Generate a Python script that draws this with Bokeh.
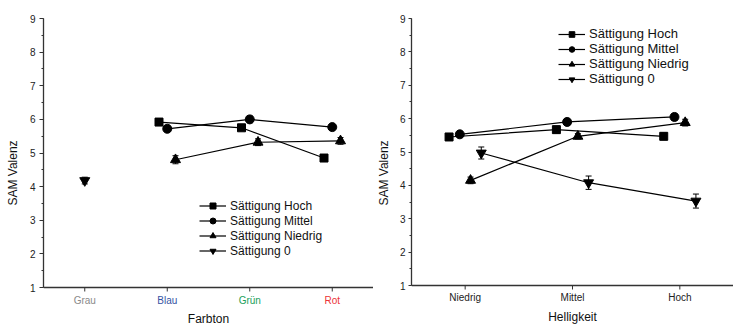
import numpy as np
from bokeh.plotting import figure
from bokeh.models import (ColumnDataSource, FactorRange, Range1d, Whisker, TeeHead,
                          Legend, LegendItem, SingleIntervalTicker, Span)
from bokeh.transform import dodge
from bokeh.layouts import row
from bokeh.embed import file_html
from bokeh.resources import INLINE

FONT = "Liberation Sans"

series_labels = ["Sättigung Hoch", "Sättigung Mittel", "Sättigung Niedrig", "Sättigung 0"]

# ---- left panel: Farbton ----
hue_cats = ["Grau", "Blau", "Grün", "Rot"]
hue_colors = ["#8a8a8a", "#3553a3", "#22a05a", "#ec3338"]
hue_hoch_x = ["Blau", "Grün", "Rot"]
hue_hoch = [5.92, 5.75, 4.85]
hue_hoch_err = [0.10, 0.08, 0.10]
hue_mittel_x = ["Blau", "Grün", "Rot"]
hue_mittel = [5.72, 6.00, 5.77]
hue_mittel_err = [0.08, 0.10, 0.08]
hue_niedrig_x = ["Blau", "Grün", "Rot"]
hue_niedrig = [4.80, 5.32, 5.36]
hue_niedrig_err = [0.12, 0.10, 0.10]
hue_null_x = ["Grau"]
hue_null = [4.18]
hue_null_err = [0.10]

# ---- right panel: Helligkeit ----
light_cats = ["Niedrig", "Mittel", "Hoch"]
light_colors = ["#222222", "#222222", "#222222"]
light_hoch = [5.45, 5.67, 5.47]
light_hoch_err = [0.10, 0.10, 0.10]
light_mittel = [5.53, 5.90, 6.05]
light_mittel_err = [0.08, 0.08, 0.10]
light_niedrig = [4.15, 5.47, 5.88]
light_niedrig_err = [0.10, 0.08, 0.10]
light_null = [4.97, 4.08, 3.53]
light_null_err = [0.18, 0.20, 0.21]

markers = ["square", "circle", "triangle", "inverted_triangle"]
msizes = [8, 9, 10, 10]

AXIS_COLOR = "#333333"
FRAME_TOP, CANVAS_H = 18, 327


def make_panel(cats, cat_colors, series, offsets, width, border_left, axis_y,
               tick_out, label_standoff, ylabel_standoff, legend_loc,
               legend_font, legend_row, xlabel, ticklabel_gap, xlabel_gap):
    # frame reaches the canvas bottom; the category axis is drawn at y = 1
    px_per_unit = (axis_y - FRAME_TOP) / 8.0
    y_start = 9 - (CANVAS_H - FRAME_TOP) / px_per_unit
    p = figure(x_range=FactorRange(*cats), y_range=Range1d(y_start, 9),
               width=width, height=CANVAS_H, output_backend="svg", toolbar_location=None,
               min_border_left=border_left, min_border_right=0, min_border_top=FRAME_TOP,
               min_border_bottom=0, x_axis_location=None)
    p.x_range.range_padding = 0
    p.outline_line_color = None
    p.xgrid.grid_line_color = None
    p.ygrid.grid_line_color = None
    p.background_fill_color = "white"
    p.border_fill_color = "white"

    ax = p.yaxis[0]
    ax.ticker = SingleIntervalTicker(interval=1, num_minor_ticks=2)
    ax.bounds = (1, 9)
    ax.axis_line_color = AXIS_COLOR
    ax.axis_line_width = 1.3
    ax.major_tick_line_color = AXIS_COLOR
    ax.minor_tick_line_color = AXIS_COLOR
    ax.major_tick_in = 0
    ax.minor_tick_in = 0
    ax.major_tick_out = tick_out
    ax.minor_tick_out = 2
    ax.major_label_text_font = FONT
    ax.major_label_text_font_size = "10px"
    ax.major_label_text_color = "#222222"
    ax.major_label_standoff = label_standoff
    ax.axis_label = "SAM Valenz"
    ax.axis_label_standoff = ylabel_standoff
    ax.axis_label_text_font = FONT
    ax.axis_label_text_font_size = "12px"
    ax.axis_label_text_font_style = "normal"
    ax.axis_label_text_color = "#111111"

    # category axis: line, ticks, coloured labels, title
    base = 1.0
    n = len(cats)
    p.add_layout(Span(location=base, dimension="width", line_color=AXIS_COLOR,
                      line_width=1.3))
    p.segment(x0=cats, y0=[base] * n, x1=cats, y1=[base - 4 / px_per_unit] * n,
              line_color=AXIS_COLOR, line_width=1)
    p.text(x=cats, y=[base - ticklabel_gap / px_per_unit] * n, text=cats,
           text_color=cat_colors, text_align="center", text_baseline="middle",
           text_font={"value": FONT}, text_font_size="10px")
    p.text(x=[n / 2], y=[base - xlabel_gap / px_per_unit], text=[xlabel],
           text_color="#111111", text_align="center", text_baseline="middle",
           text_font={"value": FONT}, text_font_size="12px")

    items = []
    for (label, xs, ys, errs), off, mk, ms in zip(series, offsets, markers, msizes):
        ys = np.asarray(ys, dtype=float)
        errs = np.asarray(errs, dtype=float)
        src = ColumnDataSource(dict(x=list(xs), y=ys, upper=ys + errs, lower=ys - errs))
        xd = dodge("x", off, range=p.x_range)
        ln = p.line(x=xd, y="y", source=src, line_color="black", line_width=1.2)
        p.add_layout(Whisker(source=src, base=xd, upper="upper", lower="lower",
                             dimension="height", line_color="black", line_width=1,
                             upper_head=TeeHead(size=6, line_color="black", line_width=1),
                             lower_head=TeeHead(size=6, line_color="black", line_width=1),
                             level="glyph"))
        sc = p.scatter(x=xd, y="y", source=src, marker=mk, size=ms,
                       fill_color="black", line_color="black")
        items.append(LegendItem(label=label, renderers=[ln, sc]))

    leg = Legend(items=items, location=legend_loc, orientation="vertical",
                 glyph_width=27, glyph_height=legend_row, label_height=legend_row,
                 label_standoff=4, spacing=0, padding=0, margin=0,
                 border_line_color=None, background_fill_alpha=0,
                 label_text_font=FONT, label_text_font_size=legend_font,
                 label_text_color="#111111", label_text_baseline="middle")
    p.add_layout(leg)
    return p


left_series = [
    (series_labels[0], hue_hoch_x, hue_hoch, hue_hoch_err),
    (series_labels[1], hue_mittel_x, hue_mittel, hue_mittel_err),
    (series_labels[2], hue_niedrig_x, hue_niedrig, hue_niedrig_err),
    (series_labels[3], hue_null_x, hue_null, hue_null_err),
]
right_series = [
    (series_labels[0], light_cats, light_hoch, light_hoch_err),
    (series_labels[1], light_cats, light_mittel, light_mittel_err),
    (series_labels[2], light_cats, light_niedrig, light_niedrig_err),
    (series_labels[3], light_cats, light_null, light_null_err),
]

left = make_panel(hue_cats, hue_colors, left_series, [-0.1, 0.0, 0.1, 0.0], 373, 43, 287,
                  4, 4, 7, (156, 69), "12px", 15, "Farbton", 13, 31)

right = make_panel(light_cats, light_colors, right_series, [-0.15, -0.05, 0.05, 0.15],
                   360, 32, 285, 3, 3, 6, (147, 241), "13px", 14, "Helligkeit", 12, 31)

layout = row(left, right)
open("out.html", "w").write(file_html(layout, INLINE))
